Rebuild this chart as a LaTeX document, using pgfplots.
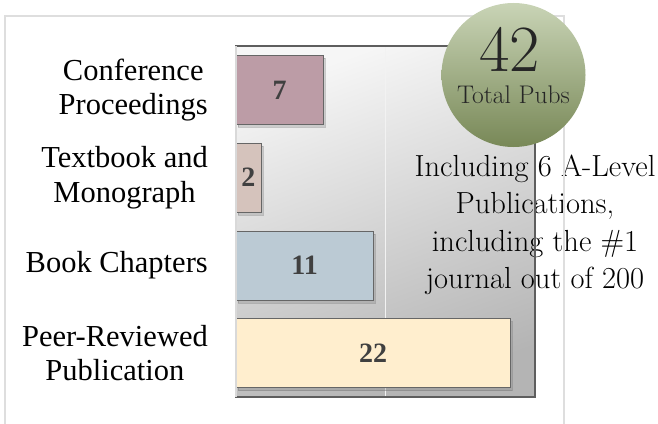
\documentclass[border=0pt]{standalone}
\usepackage{fontspec}
\usepackage{pgfplots}
\pgfplotsset{compat=1.18}
\usetikzlibrary{shadows}
\IfFontExistsTF{LiberationSerif-Regular.ttf}
  {\newfontfamily\garamond{LiberationSerif}[Extension=.ttf,UprightFont=*-Regular,BoldFont=*-Bold,ItalicFont=*-Italic,BoldItalicFont=*-BoldItalic]}
  {\newfontfamily\garamond{Liberation Serif}}
\definecolor{confc}{HTML}{BC9CA6}
\definecolor{textc}{HTML}{D5C3BC}
\definecolor{bookc}{HTML}{BBCAD4}
\definecolor{peerc}{HTML}{FFEECE}
\definecolor{framec}{HTML}{DEDEDE}
\definecolor{axisc}{HTML}{5E5E5E}
\definecolor{bgtop}{HTML}{F6F6F6}
\definecolor{bgbot}{HTML}{B4B4B4}
\definecolor{circtop}{HTML}{C9D4B6}
\definecolor{circbot}{HTML}{788857}
\definecolor{labc}{HTML}{404040}
\begin{document}
\begin{tikzpicture}[x=1bp,y=1bp]
\path[use as bounding box] (0,0) rectangle (658,423);
\draw[framec, line width=1.6bp] (5,-5) -- (5,407) -- (564,407) -- (564,-5);
\begin{axis}[
  at={(236bp,26bp)}, anchor=south west,
  scale only axis, width=299bp, height=351bp,
  xmin=0, xmax=24, ymin=-0.5, ymax=3.5,
  xbar, bar width=69bp, bar shift=0pt,
  xtick={12}, xticklabels={}, xmajorgrids,
  grid style={white!90!gray, line width=1.2bp},
  ytick={0,1,2,3},
  yticklabels={{Peer-Reviewed\\Publication},{Book Chapters},{Textbook and\\Monograph},{Conference\\Proceedings}},
  yticklabel style={align=center, font=\garamond\fontsize{30.5bp}{34.5bp}\selectfont, inner sep=0pt, xshift=-28bp, text=black},
  major tick length=0pt,
  axis line style={axisc, line width=1.6bp},
  axis background/.style={shade, top color=bgtop, bottom color=bgbot, shading angle=20},
  nodes near coords={\pgfmathprintnumber[assume math mode=true]{\pgfplotspointmeta}},
  visualization depends on=x \as \rawx,
  every node near coord/.append style={anchor=center, shift={(axis direction cs:-\rawx/2,0)}, font=\garamond\bfseries\fontsize{28bp}{30bp}\selectfont, text=labc},
]
\addplot[fill=confc, draw=gray!80!black, line width=0.6bp, drop shadow={shadow xshift=2bp, shadow yshift=-3bp, opacity=0.3}] coordinates {(7,3)};
\addplot[fill=textc, draw=gray!80!black, line width=0.6bp, drop shadow={shadow xshift=2bp, shadow yshift=-3bp, opacity=0.3}] coordinates {(2,2)};
\addplot[fill=bookc, draw=gray!80!black, line width=0.6bp, drop shadow={shadow xshift=2bp, shadow yshift=-3bp, opacity=0.3}] coordinates {(11,1)};
\addplot[fill=peerc, draw=gray!80!black, line width=0.6bp, drop shadow={shadow xshift=2bp, shadow yshift=-3bp, opacity=0.3}] coordinates {(22,0)};
\end{axis}
\draw[gray!30, line width=1.6bp] (236,26) -- (236,377);
\node[align=center, anchor=north, inner sep=0pt, text=black, font=\fontsize{30.5bp}{37.5bp}\selectfont] at (535,268.5)
  {Including 6 A-Level\\Publications,\\including the \#1\\journal out of 200};
\draw[axisc, line width=1.6bp] (535,26) -- (535,377);
\draw[framec, line width=1.6bp] (564,-5) -- (564,407);
\shade[top color=circtop, bottom color=circbot] (513.5,348) circle (72);
\node[anchor=base, inner sep=0pt, text=black!85, font=\fontsize{66bp}{70bp}\selectfont] at (509.5,352) {42};
\node[anchor=base, inner sep=0pt, text=black!85, font=\fontsize{25.5bp}{28bp}\selectfont] at (513.5,320) {Total Pubs};
\end{tikzpicture}
\end{document}
